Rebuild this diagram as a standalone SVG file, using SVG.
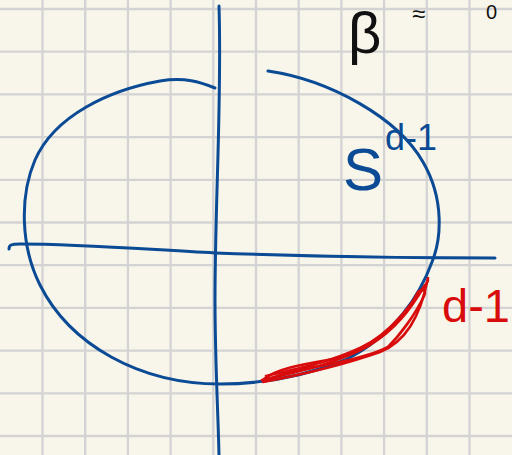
<svg xmlns="http://www.w3.org/2000/svg" width="512" height="455" viewBox="0 0 512 455">
<style>
.grid{stroke:#d3d3d3;stroke-width:2.3;fill:none}
.blue{stroke:#0b4a94;stroke-width:3;fill:none;stroke-linecap:round;stroke-linejoin:round}
.red{stroke:#d80c0c;stroke-width:2.6;fill:none;stroke-linecap:round;stroke-linejoin:round}
.hb{font-family:"Liberation Sans",Arial,sans-serif;fill:#0b4a94}
.hr{font-family:"Liberation Sans",Arial,sans-serif;fill:#d80c0c}
.hk{font-family:"Liberation Sans",Arial,sans-serif;fill:#111}
</style>
<rect width="512" height="455" fill="#f8f6ea"/>
<g id="grid" class="grid">
<path d="M42.5,0V455M85.2,0V455M127.9,0V455M170.6,0V455M213.3,0V455M256,0V455M298.7,0V455M341.4,0V455M384.1,0V455M426.8,0V455M469.5,0V455"/>
<path d="M0,9H512M0,51.7H512M0,94.4H512M0,137.1H512M0,179.8H512M0,222.5H512M0,265.2H512M0,307.9H512M0,350.6H512M0,393.3H512M0,436H512"/>
</g>
<g id="axes" class="blue">
<path d="M219,6 C222,100 215,200 215,300 C215,360 218,410 219,455"/>
<path d="M9,249 C9,245 11,244 20,244 C80,244 140,249 215,253 C300,256 400,258 495,258"/>
</g>
<g id="sphere" class="blue">
<path d="M268,71 C330,80 398,118 423,162 C445,200 441,240 432,262 C420,295 395,335 345,360 C300,378 260,384 220,384 C140,384 70,345 40,285 C20,245 20,195 35,160 C55,115 110,90 160,81 C185,77 200,82 215,88"/>
</g>
<g id="cap" class="red">
<path d="M264,379 C278,368 305,364 333,359 C370,350 396,326 420,292 C424,287 427,284 428,280"/>
<path d="M262,380 C300,372 340,362 370,345 C395,330 410,310 425,285"/>
<path d="M263,382 C300,375 340,366 380,352 C405,342 420,318 428,278"/>
<path d="M266,376 C300,368 330,362 360,348 C392,333 410,308 418,292 C422,288 427,290 424,296 C415,315 400,335 388,347 C370,357 330,364 300,370 C285,374 270,378 264,380"/>
</g>
<g id="labels">
<text class="hb" x="343" y="190" font-size="60">S</text>
<text class="hb" x="385" y="150" font-size="36" textLength="52" lengthAdjust="spacingAndGlyphs">d-1</text>
<text class="hr" x="442" y="322" font-size="47">d-1</text>
<text class="hk" x="348" y="53" font-size="58">β</text>
<text class="hk" x="412" y="22" font-size="24">≈</text>
<text class="hk" x="486" y="19" font-size="20">0</text>
</g>
</svg>
